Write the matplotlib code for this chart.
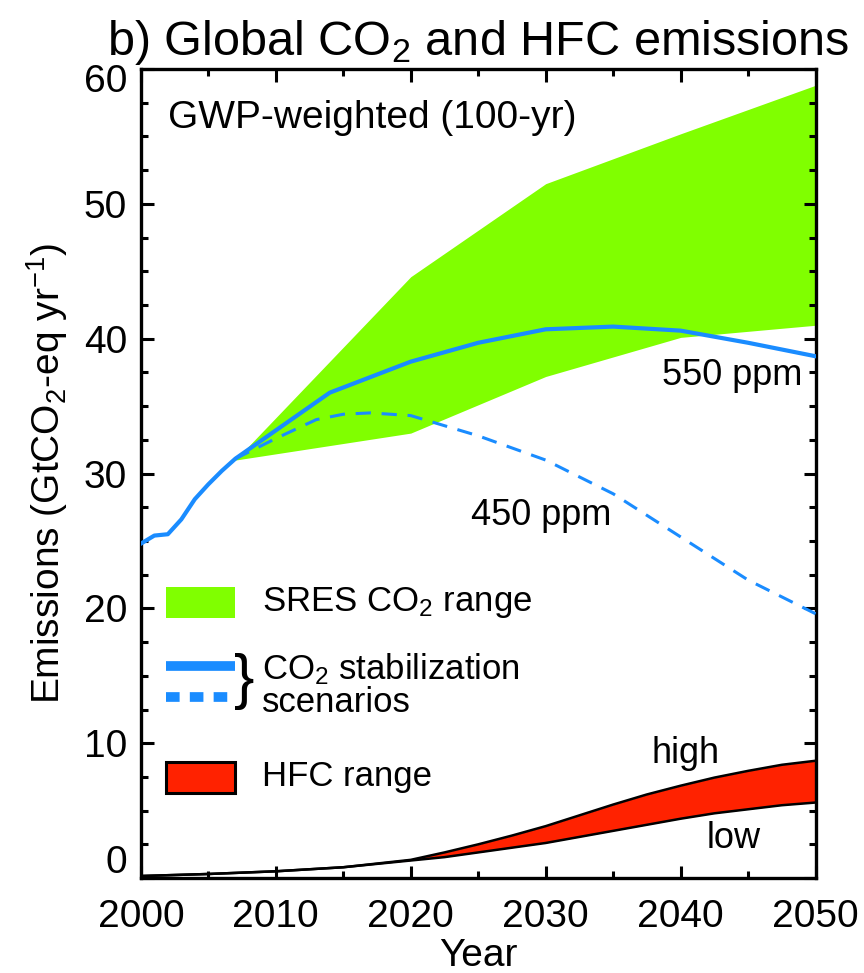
import matplotlib
matplotlib.use('Agg')
import matplotlib.pyplot as plt
from matplotlib.patches import Rectangle
from matplotlib.ticker import MultipleLocator, FuncFormatter

plt.rcParams['font.family'] = ['Liberation Sans', 'DejaVu Sans']
plt.rcParams['mathtext.fontset'] = 'custom'
plt.rcParams['mathtext.rm'] = 'Liberation Sans'
plt.rcParams['mathtext.it'] = 'Liberation Sans:italic'
plt.rcParams['mathtext.default'] = 'rm'

# SRES CO2 range (GtCO2-eq/yr)
sres_years = [2007, 2020, 2030, 2040, 2050]
sres_high = [31.0, 44.6, 51.5, 55.2, 58.8]
sres_low = [31.0, 33.0, 37.2, 40.1, 41.0]

# CO2 stabilization scenarios
s550_years = [2000, 2001, 2002, 2003, 2004, 2005, 2006, 2007, 2010, 2014,
              2020, 2025, 2030, 2035, 2040, 2045, 2050]
s550_vals = [24.8, 25.4, 25.5, 26.6, 28.1, 29.2, 30.2, 31.1, 33.2, 36.0,
             38.3, 39.7, 40.7, 40.9, 40.6, 39.7, 38.7]
s450_years = [2007, 2010, 2013, 2015, 2017, 2020, 2025, 2030, 2035, 2040, 2045, 2050]
s450_vals = [31.1, 32.6, 34.0, 34.4, 34.5, 34.3, 32.8, 31.0, 28.5, 25.3, 22.1, 19.6]

# HFC range
hfc_years = [2000, 2005, 2010, 2015, 2020, 2022.5, 2025, 2027.5, 2030, 2032.5,
             2035, 2037.5, 2040, 2042.5, 2045, 2047.5, 2050]
hfc_high = [0.15, 0.3, 0.5, 0.8, 1.35, 1.9, 2.5, 3.15, 3.85, 4.65,
            5.45, 6.2, 6.85, 7.45, 7.95, 8.4, 8.7]
hfc_low = [0.15, 0.3, 0.5, 0.8, 1.3, 1.55, 1.9, 2.25, 2.6, 3.05,
           3.5, 3.95, 4.4, 4.8, 5.1, 5.4, 5.6]

Y_MIN, Y_MAX = 0, 60

GREEN = '#80ff00'
BLUE = '#1a8cff'
RED = '#ff2200'

fig = plt.figure(figsize=(8.64, 9.73), dpi=100)
ax = fig.add_axes([0.163, 0.0976, 0.781, 0.8314])

ax.fill_between(sres_years, sres_low, sres_high, color=GREEN, lw=0, zorder=1)
ax.plot(s550_years, s550_vals, color=BLUE, lw=3, zorder=3)
ax.plot(s450_years, s450_vals, color=BLUE, lw=2.2, ls=(0, (5, 3.5)), zorder=3)
ax.fill_between(hfc_years, hfc_low, hfc_high, color=RED, lw=0, zorder=2)
ax.plot(hfc_years, hfc_high, color='black', lw=1.8, zorder=4)
ax.plot(hfc_years, hfc_low, color='black', lw=1.8, zorder=4)

ax.set_xlim(2000, 2050)
ax.set_ylim(Y_MIN, Y_MAX)
ax.xaxis.set_major_locator(MultipleLocator(10))
ax.xaxis.set_minor_locator(MultipleLocator(5))
ax.yaxis.set_major_locator(MultipleLocator(10))
ax.yaxis.set_minor_locator(MultipleLocator(2.5))
# end labels are drawn separately, nudged inside the axis range
ax.yaxis.set_major_formatter(FuncFormatter(
    lambda v, p: '' if v in (Y_MIN, Y_MAX) else f'{v:g}'))
ax.tick_params(which='both', direction='in', top=True, right=True,
               width=2.2, labelsize=28)
ax.tick_params(which='major', length=9)
ax.tick_params(which='minor', length=5)
ax.tick_params(axis='x', pad=15)
ax.tick_params(axis='y', pad=10)
for s in ax.spines.values():
    s.set_linewidth(2.4)

for v, dy in ((Y_MAX, -9.5), (Y_MIN, 10.5)):
    ax.annotate(f'{v:g}', xy=(0, v), xycoords=('axes fraction', 'data'),
                xytext=(-10, dy), textcoords='offset points',
                ha='right', va='center', fontsize=28)

ax.set_title('b) Global CO$_2$ and HFC emissions', fontsize=35, pad=10)
ax.set_xlabel('Year', fontsize=28, labelpad=2)
ax.set_ylabel('Emissions (GtCO$_2$-eq yr$^{-1}$)', fontsize=28, labelpad=10)

# annotations
ax.text(0.04, 0.94, 'GWP-weighted (100-yr)', transform=ax.transAxes,
        fontsize=28, va='center', ha='left')
ax.text(2038.6, 37.3, '550 ppm', fontsize=26, va='center', ha='left')
ax.text(2024.5, 26.9, '450 ppm', fontsize=26, va='center', ha='left')
ax.text(2040.4, 9.2, 'high', fontsize=26, va='center', ha='center')
ax.text(2043.9, 2.9, 'low', fontsize=26, va='center', ha='center')

# legend drawn by hand
ax.add_patch(Rectangle((2001.9, 19.3), 5.1, 2.3, color=GREEN, lw=0, zorder=5))
ax.text(2009.0, 20.4, 'SRES CO$_2$ range', fontsize=25, va='center', ha='left')
ax.plot([2001.9, 2007.0], [15.7, 15.7], color=BLUE, lw=7, solid_capstyle='butt')
ax.plot([2001.9, 2006.5], [13.4, 13.4], color=BLUE, lw=7,
        ls=(0, (1.4, 1.05)), dash_capstyle='butt')
ax.text(2006.9, 14.55, '}', fontsize=44, va='center', ha='left')
ax.text(2009.0, 15.5, 'CO$_2$ stabilization', fontsize=25, va='center', ha='left')
ax.text(2009.0, 13.0, 'scenarios', fontsize=25, va='center', ha='left')
ax.add_patch(Rectangle((2001.9, 6.3), 5.1, 2.3, facecolor=RED, edgecolor='black',
                       lw=2.2, zorder=5))
ax.text(2009.0, 7.5, 'HFC range', fontsize=25, va='center', ha='left')

fig.savefig('out.png', dpi=100)
